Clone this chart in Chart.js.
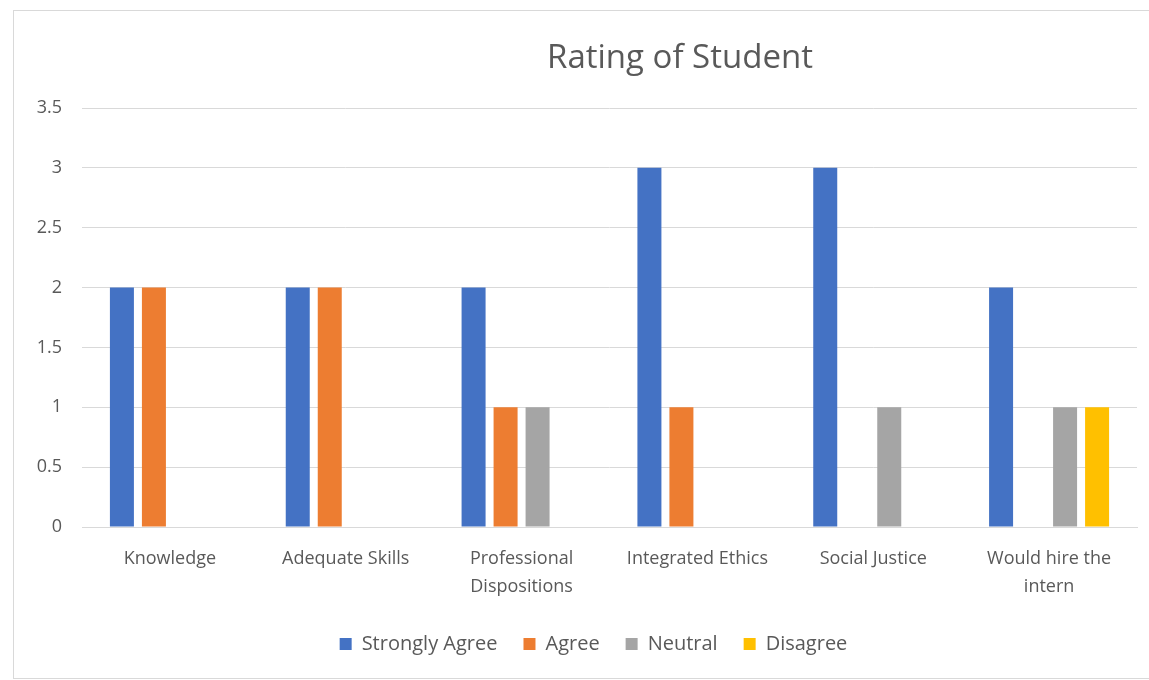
<!DOCTYPE html>
<html>
<head>
<meta charset="utf-8">
<script src="https://cdn.jsdelivr.net/npm/chart.js@4/dist/chart.umd.min.js"></script>
<style>
    html, body { margin: 0; padding: 0; background: #fff; overflow: hidden; }
    #wrap { position: relative; width: 1149px; height: 680px; }
    #frame { position: absolute; left: 13px; top: 10px; width: 1150px; height: 667px; border: 1px solid #d9d9d9; border-right: none; pointer-events: none; }
</style>
</head>
<body>
<div id="wrap">
    <canvas id="c" width="1149" height="680"></canvas>
    <div id="frame"></div>
</div>
<script>
const categories = [
    'Knowledge',
    'Adequate Skills',
    ['Professional', 'Dispositions'],
    'Integrated Ethics',
    'Social Justice',
    ['Would hire the', 'intern']
];
const seriesNames = ['Strongly Agree', 'Agree', 'Neutral', 'Disagree'];
const stronglyAgree = [2, 2, 2, 3, 3, 2];
const agree = [2, 2, 1, 1, 0, 0];
const neutral = [0, 0, 1, 0, 1, 1];
const disagree = [0, 0, 0, 0, 0, 1];
const colors = ['#4472C4', '#ED7D31', '#A5A5A5', '#FFC000'];
const chartTitle = 'Rating of Student';

const textColor = '#595959';
const fontFamily = '"Open Sans", sans-serif';

// title is centred on the frame, not on the canvas
const titlePlugin = {
    id: 'frameTitle',
    afterLayout(chart) {
        // legend sits a little right of centre in the original
        chart.legend.left += 25;
        chart.legend.right += 25;
    },
    afterDraw(chart) {
        const ctx = chart.ctx;
        ctx.save();
        ctx.font = '33px ' + fontFamily;
        ctx.fillStyle = textColor;
        ctx.textAlign = 'center';
        ctx.textBaseline = 'middle';
        ctx.fillText(chartTitle, 680, 59);
        ctx.restore();
    }
};

const values = [stronglyAgree, agree, neutral, disagree];

new Chart(document.getElementById('c'), {
    type: 'bar',
    data: {
        labels: categories,
        datasets: seriesNames.map((name, i) => ({
            label: name,
            data: values[i],
            backgroundColor: colors[i],
            borderWidth: 0,
            categoryPercentage: 0.728,
            barPercentage: 0.75
        }))
    },
    options: {
        responsive: false,
        animation: false,
        layout: { padding: { top: 108, left: 0, right: 12, bottom: 16 } },
        plugins: {
            title: { display: false },
            tooltip: { enabled: false },
            legend: {
                position: 'bottom',
                labels: {
                    boxWidth: 12,
                    boxHeight: 12,
                    padding: 26,
                    color: textColor,
                    font: { family: fontFamily, size: 20 }
                }
            }
        },
        scales: {
            x: {
                grid: { display: false, drawTicks: false },
                border: { display: true, color: '#d9d9d9', width: 1 },
                ticks: {
                    color: textColor,
                    padding: 18,
                    maxRotation: 0,
                    autoSkip: false,
                    font: { family: fontFamily, size: 18, lineHeight: '28px' }
                },
                afterFit: (s) => { s.height = 81; }
            },
            y: {
                min: 0,
                max: 3.5,
                grid: { color: '#d9d9d9', drawTicks: false },
                border: { display: false },
                ticks: {
                    stepSize: 0.5,
                    color: textColor,
                    padding: 20,
                    font: { family: fontFamily, size: 18 },
                    callback: (v) => String(v)
                },
                afterFit: (s) => { s.width = 82; }
            }
        }
    },
    plugins: [titlePlugin]
});
</script>
</body>
</html>
